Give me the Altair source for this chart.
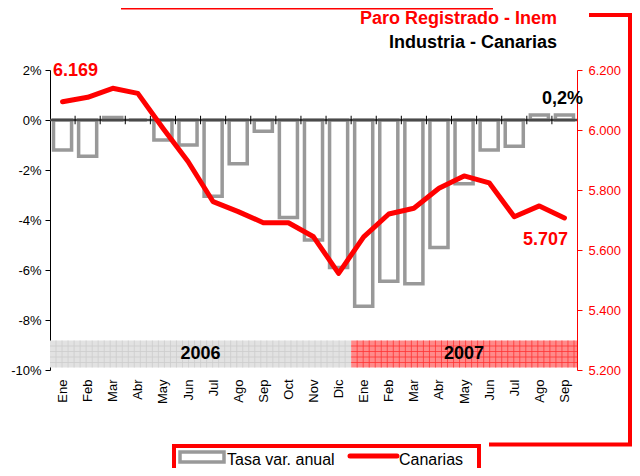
import altair as alt
import pandas as pd
import numpy as np

# ---------------- data ----------------
months = ["Ene", "Feb", "Mar", "Abr", "May", "Jun", "Jul", "Ago", "Sep", "Oct", "Nov", "Dic",
          "Ene", "Feb", "Mar", "Abr", "May", "Jun", "Jul", "Ago", "Sep"]
tasa = [-1.2, -1.45, 0.1, 0.0, -0.8, -1.0, -3.05, -1.75, -0.45, -3.9, -4.8, -5.9,
        -7.45, -6.45, -6.55, -5.1, -2.55, -1.2, -1.05, 0.2, 0.2]
canarias = [6094, 6109, 6139, 6122, 6006, 5895, 5761, 5728, 5691, 5691, 5644, 5522,
            5644, 5720, 5739, 5806, 5847, 5824, 5711, 5747, 5707]
years = ["2006", "2007"]
months_per_year = [12, 9]
title1 = "Paro Registrado - Inem"
title2 = "Industria - Canarias"
ann_first = "6.169"
ann_last = "5.707"
ann_pct = "0,2%"
legend_labels = ["Tasa var. anual", "Canarias"]

# ---------------- styling ----------------
FONT = "Liberation Sans"
RED = "#FF0000"
GRAY = "#999999"
W, H = 527, 300

n = len(months)
idx = list(range(n))
df = pd.DataFrame({"i": idx, "mes": months, "tasa": tasa, "canarias": canarias})
df["x0"] = df["i"] - 0.36
df["x1"] = df["i"] + 0.36
df["zero"] = 0.0

label_js = "[" + ",".join(f"'{m}'" for m in months) + "][datum.value]"

x_scale = alt.Scale(domain=[-0.5, n - 0.5], nice=False, zero=False)
y_scale = alt.Scale(domain=[-10, 2], nice=False, zero=False)
x_axis = alt.Axis(values=idx, labelExpr=label_js, labelAngle=-90, labelAlign="right",
                  labelBaseline="middle", domain=False, ticks=False, grid=False, title=None,
                  labelFontSize=13, labelFont=FONT, labelColor="black", labelPadding=9)
y_axis = alt.Axis(values=list(range(-10, 3, 2)), labelExpr="datum.value + '%'", title=None,
                  grid=False, domainColor="black", tickColor="black", tickSize=5,
                  labelFontSize=13, labelFont=FONT, labelColor="black", labelPadding=4)


def X(f):
    return alt.X(f, type="quantitative", scale=x_scale, axis=x_axis)


def Y(f):
    return alt.Y(f, type="quantitative", scale=y_scale, axis=y_axis)


# year bands
starts = np.cumsum([0] + months_per_year[:-1]) - 0.5
ends = np.cumsum(months_per_year) - 0.5
band_top, band_bot = -8.82, -9.9
bands = pd.DataFrame({"year": years, "start": starts, "end": ends,
                      "top": band_top, "bot": band_bot, "mid": (starts + ends) / 2,
                      "ymid": (band_top + band_bot) / 2})
band_fill = ["#E2E2E2", "#FF8A8A"]
band_line = ["#CDCDCD", "#FF3434"]

band_layers = []
for k, (yr, s, e) in enumerate(zip(years, starts, ends)):
    band_layers.append(alt.Chart(bands.iloc[[k]]).mark_rect(color=band_fill[k]).encode(
        x=X("start"), x2="end", y=Y("top"), y2="bot"))
    vx = pd.DataFrame({"x": np.arange(s + 0.24, e - 0.05, 0.24), "top": band_top, "bot": band_bot})
    band_layers.append(alt.Chart(vx).mark_rule(color=band_line[k], strokeWidth=0.8).encode(
        x=X("x"), y=Y("top"), y2="bot"))
    hy = pd.DataFrame({"y": np.arange(band_top - 0.22, band_bot + 0.05, -0.22), "s": s, "e": e})
    band_layers.append(alt.Chart(hy).mark_rule(color=band_line[k], strokeWidth=0.8).encode(
        x=X("s"), x2="e", y=Y("y")))
band_text = alt.Chart(bands).mark_text(font=FONT, fontSize=18, fontWeight="bold",
                                       color="black", baseline="middle").encode(
    x=X("mid"), y=Y("ymid"), text="year:N")

# bars
bars = alt.Chart(df).mark_rect(fill="white", stroke=GRAY, strokeWidth=3.5).encode(
    x=X("x0"), x2="x1", y=Y("tasa"), y2="zero")

# zero line and category ticks
zero_df = pd.DataFrame({"a": [-0.5], "b": [n - 0.5], "z": [0.0]})
zero_rule = alt.Chart(zero_df).mark_rule(color="#4A4A4A", strokeWidth=2.5).encode(
    x=X("a"), x2="b", y=Y("z"))
tick_df = pd.DataFrame({"x": [i + 0.5 for i in idx[:-1]], "t": 0.17, "b": -0.17})
cat_ticks = alt.Chart(tick_df).mark_rule(color="black", strokeWidth=1).encode(
    x=X("x"), y=Y("t"), y2="b")

# annotations (data-unit placements)
ann_df = pd.DataFrame({"x": [-0.38, 20.74, 20.14], "y": [1.97, 0.86, -4.78],
                       "t": [ann_first, ann_pct, ann_last]})
ann_left = alt.Chart(ann_df.iloc[[0]]).mark_text(
    font=FONT, fontSize=18, fontWeight="bold", color=RED, align="left", baseline="middle"
).encode(x=X("x"), y=Y("y"), text="t:N")
ann_pct_c = alt.Chart(ann_df.iloc[[1]]).mark_text(
    font=FONT, fontSize=18, fontWeight="bold", color="black", align="right", baseline="middle"
).encode(x=X("x"), y=Y("y"), text="t:N")
ann_last_c = alt.Chart(ann_df.iloc[[2]]).mark_text(
    font=FONT, fontSize=18, fontWeight="bold", color=RED, align="right", baseline="middle"
).encode(x=X("x"), y=Y("y"), text="t:N")


# decorations (pixel positions relative to the plot area)
def hline(x1, x2, y, color=RED, w=4):
    return alt.Chart(df.iloc[[0]]).mark_rule(color=color, strokeWidth=w).encode(
        x=alt.value(x1), x2=alt.value(x2), y=alt.value(y))


def vline(x, y1, y2, color=RED, w=4):
    return alt.Chart(df.iloc[[0]]).mark_rule(color=color, strokeWidth=w).encode(
        x=alt.value(x), y=alt.value(y1), y2=alt.value(y2))


def ptext(x, y, txt, size, color="black", weight="normal", align="left"):
    return alt.Chart(df.iloc[[0]]).mark_text(
        font=FONT, fontSize=size, fontWeight=weight, color=color, align=align,
        baseline="middle").encode(x=alt.value(x), y=alt.value(y), text=alt.value(txt))


decor = [
    hline(71, 443, -62, w=3),
    hline(539, 582, -55),
    vline(580, -57, 376),
    hline(439, 582, 374.5),
    ptext(507, -51, title1, 18, RED, "bold", "right"),
    ptext(507, -27, title2, 18, "black", "bold", "right"),
    # legend box
    hline(122, 431, 376),
    vline(124, 374, 400),
    vline(429, 374, 400),
    alt.Chart(df.iloc[[0]]).mark_rect(fill="white", stroke=GRAY, strokeWidth=3.5).encode(
        x=alt.value(130), x2=alt.value(174), y=alt.value(382), y2=alt.value(392)),
    ptext(177, 390, legend_labels[0], 16),
    alt.Chart(df.iloc[[0]]).mark_rule(color=RED, strokeWidth=5, strokeCap="round").encode(
        x=alt.value(300), x2=alt.value(347), y=alt.value(386)),
    ptext(349, 390, legend_labels[1], 16),
]

left = alt.layer(*band_layers, band_text, bars, zero_rule, cat_ticks,
                 ann_left, ann_pct_c, ann_last_c, *decor)

line = alt.Chart(df).mark_line(color=RED, strokeWidth=5, strokeJoin="round",
                               strokeCap="round").encode(
    x=X("i"),
    y=alt.Y("canarias:Q", scale=alt.Scale(domain=[5200, 6200], nice=False, zero=False),
            axis=alt.Axis(orient="right", values=list(range(5200, 6201, 200)),
                          labelExpr="replace(format(datum.value, ','), ',', '.')",
                          title=None, grid=False, domainColor=RED, tickColor=RED,
                          labelColor=RED, tickSize=5, labelFontSize=13, labelFont=FONT,
                          labelPadding=6)))

chart = alt.layer(left, line).resolve_scale(y="independent").properties(
    width=W, height=H,
    autosize=alt.AutoSizeParams(type="none"),
    padding={"left": 42, "top": 62, "right": 55, "bottom": 98},
).configure_view(strokeWidth=0)

chart.save("out.html", embed_options={"renderer": "svg", "actions": False})
